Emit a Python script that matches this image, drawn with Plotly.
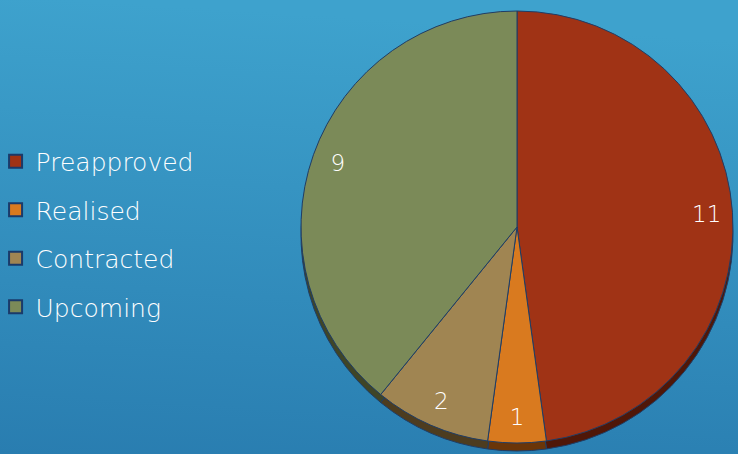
import base64
import plotly.graph_objects as go

categories = ["Preapproved", "Realised", "Contracted", "Upcoming"]
values = [11, 1, 2, 9]
face_colors = ["#a03315", "#d97a1f", "#a08552", "#7b8a58"]
edge_colors = ["#4f1708", "#6a3508", "#4d3c1f", "#3f4527"]

W, H = 738, 454
FONT = "DejaVu Sans"

# pie geometry (pixels)
cx, cy, r, depth = 517, 227, 216, 8
def dom(cxp, cyp, rp):
    return dict(x=[(cxp - rp) / W, (cxp + rp) / W],
                y=[1 - (cyp + rp) / H, 1 - (cyp - rp) / H])

common = dict(labels=categories, values=values, sort=False, direction="clockwise",
              rotation=0, showlegend=False)

fig = go.Figure()
# 3D rim (darker copy, shifted down)
fig.add_trace(go.Pie(**common, domain=dom(cx, cy + depth, r), textinfo="none",
                     hoverinfo="skip",
                     marker=dict(colors=edge_colors, line=dict(color="#1f3d66", width=1))))
# main face
fig.add_trace(go.Pie(**common, domain=dom(cx, cy, r), textinfo="none",
                     marker=dict(colors=face_colors, line=dict(color="#1f3d66", width=1))))
# value labels placed near the rim
fig.add_trace(go.Pie(**common, domain=dom(cx, cy, r), hole=0.76, textinfo="value",
                     textposition="inside", insidetextorientation="horizontal",
                     textfont=dict(family=FONT, size=23, color="white", weight=200),
                     hoverinfo="skip",
                     marker=dict(colors=["rgba(0,0,0,0)"] * 4, line=dict(width=0))))

# legend entries
for i, (name, col) in enumerate(zip(categories, face_colors)):
    fig.add_trace(go.Scatter(x=[None], y=[None], mode="markers", name=name,
                             legendgroup=f"g{i}",
                             marker=dict(symbol="square", size=13, color=col,
                                         line=dict(color="#1a3a6a", width=2))))

svg = ('<svg xmlns="http://www.w3.org/2000/svg" width="738" height="454" '
       'preserveAspectRatio="none"><defs><linearGradient id="g" x1="0.1" y1="0" x2="0" y2="1">'
       '<stop offset="0" stop-color="#3ea2cd"/><stop offset="1" stop-color="#297db0"/>'
       '</linearGradient></defs><rect width="738" height="454" fill="url(#g)"/></svg>')
src = "data:image/svg+xml;base64," + base64.b64encode(svg.encode()).decode()

fig.update_layout(
    width=W, height=H,
    margin=dict(l=0, r=0, t=0, b=0, autoexpand=False),
    paper_bgcolor="#3390c0",
    plot_bgcolor="rgba(0,0,0,0)",
    images=[dict(source=src, xref="paper", yref="paper", x=0, y=1, sizex=1, sizey=1,
                 xanchor="left", yanchor="top", sizing="stretch", layer="below")],
    xaxis=dict(visible=False), yaxis=dict(visible=False),
    legend=dict(x=-0.006, y=1 - 234 / H, xanchor="left", yanchor="middle",
                bgcolor="rgba(0,0,0,0)", tracegroupgap=13,
                font=dict(family=FONT, size=25, color="white", weight=200)),
)

fig.write_html("out.html", config={"displayModeBar": False},
               post_script="document.body.style.margin='0';")
